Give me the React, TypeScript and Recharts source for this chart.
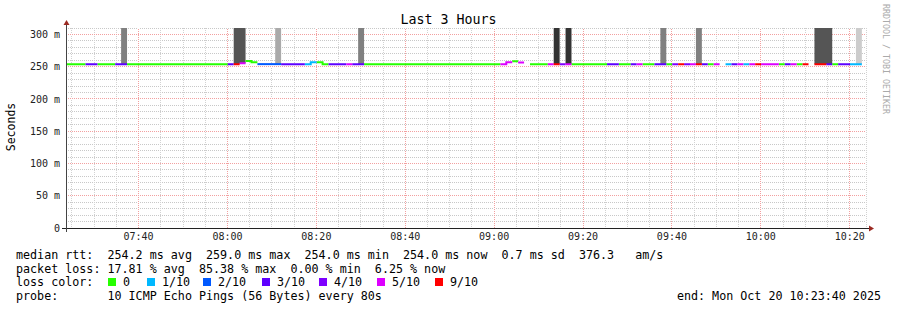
import React from 'react';
import { ComposedChart, Line, Area, XAxis, YAxis, CartesianGrid, ReferenceLine } from 'recharts';

// ---- data ----
const START_CLOCK = '07:23:40';
const SPAN_SECONDS = 10800;
const STEP_SECONDS = 80;
const FIRST_STEP_OFFSET = -56; // first 80s step starts 56 s before graph start
const Y_MAX = 310;
const SMOKE_TOP = 310;

const LOSS_LEVELS = [0, 1, 2, 3, 4, 5, 9];
const LOSS_LABELS = ['0', '1/10', '2/10', '3/10', '4/10', '5/10', '9/10'];
const LOSS_COLORS = ['#26ff00', '#00b8ff', '#0059ff', '#5e00ff', '#7e00ff', '#dd00ff', '#ff0000'];

const N = null;
// loss (x/10) per 80 s step
const LOSS = [
  0, 0, 0, 0, 3, 3, 0, 0, 0, 3,
  3, 0, 0, 0, 0, 0, 0, 0, 0, 0,
  0, 0, 0, 0, 0, 0, 0, 0, 3, 9,
  5, 0, 0, 2, 2, 2, 2, 3, 3, 3,
  3, 1, 1, 0, 0, 3, 3, 3, 5, 3,
  3, 0, 0, 0, 0, 0, 0, 0, 0, 0,
  0, 0, 0, 0, 0, 0, 0, 0, 0, 0,
  0, 0, 0, 0, 5, 5, 0, 5, N, 0,
  0, 0, 5, 9, 4, 5, 0, 0, 0, 0,
  0, 0, 3, 3, 0, 0, 3, 5, 0, 0,
  3, 3, 0, 4, 9, 4, 5, 9, 3, 0,
  5, N, 1, 3, 5, 1, 5, 9, 5, 5,
  5, 0, 3, 5, 0, 9, N, 9, 9, 3,
  0, 3, 3, 1, 1, N,
];

// median rtt (ms) per step
const MEDIAN = [
  254, 254, 254, 254, 254, 254, 254, 254, 254, 254,
  254, 254, 254, 254, 254, 254, 254, 254, 254, 254,
  254, 254, 254, 254, 254, 254, 254, 254, 254, 254,
  255.5, 259, 257, 254, 254, 254, 254, 254, 254, 254,
  254, 254, 257, 257, 254, 254, 254, 254, 254, 254,
  254, 254, 254, 254, 254, 254, 254, 254, 254, 254,
  254, 254, 254, 254, 254, 254, 254, 254, 254, 254,
  254, 254, 254, 254, 254, 257, 258.5, 256.5, N, 254,
  254, 254, 254, 254, 254, 254, 254, 254, 254, 254,
  254, 254, 254, 254, 254, 254, 254, 254, 254, 254,
  254, 254, 254, 254, 254, 254, 254, 254, 254, 254,
  254, N, 254, 254, 254, 254, 254, 254, 254, 254,
  254, 254, 254, 254, 254, 254, N, 254, 254, 254,
  254, 254, 254, 254, 254, N,
];

// steps with tall smoke, and their shade
const SMOKE_STEPS = [10, 29, 30, 36, 50, 83, 85, 101, 107, 127, 128, 129, 134];
const SMOKE_STEP_SHADES = ['mid', 'dark', 'dark', 'light', 'mid', 'black', 'black', 'mid', 'mid', 'dark', 'dark', 'dark', 'pale'];
const SHADE_NAMES = ['black', 'dark', 'mid', 'light', 'pale'];
const SHADE_COLORS = ['#333333', '#555555', '#808080', '#aaaaaa', '#cccccc'];

const Y_LABEL_TICKS = [0, 50, 100, 150, 200, 250, 300];
const X_TICK_LABELS = ['07:40', '08:00', '08:20', '08:40', '09:00', '09:20', '09:40', '10:00', '10:20'];

const TITLE = 'Last 3 Hours';
const Y_TITLE = 'Seconds';
const SIDE_TEXT = 'RRDTOOL / TOBI OETIKER';
const LEGEND_LINES = [
  'median rtt:  254.2 ms avg  259.0 ms max  254.0 ms min  254.0 ms now  0.7 ms sd  376.3   am/s',
  'packet loss: 17.81 % avg  85.38 % max  0.00 % min  6.25 % now',
];
const LOSS_COLOR_TITLE = 'loss color:';
const PROBE_TEXT = 'probe:       10 ICMP Echo Pings (56 Bytes) every 80s';
const END_TEXT = 'end: Mon Oct 20 10:23:40 2025';

// ---- helpers ----
const clockToSec = (c: string) => {
  const p = c.split(':').map(Number);
  return p[0] * 3600 + p[1] * 60 + (p[2] || 0);
};
const START_SEC = clockToSec(START_CLOCK);
const offsetOf = (c: string) => clockToSec(c) - START_SEC;

const majorX = X_TICK_LABELS.map(offsetOf);
const minorX: number[] = [];
{
  const first = Math.ceil(START_SEC / 300) * 300 - START_SEC;
  for (let t = first; t <= SPAN_SECONDS; t += 300) minorX.push(t);
}
const minorY: number[] = [];
for (let v = 0; v <= Y_MAX; v += 10) minorY.push(v);
const majorY = Y_LABEL_TICKS.filter((v) => v > 0);

const rows: any[] = [];
LOSS.forEach((loss, j) => {
  const s = FIRST_STEP_OFFSET + j * STEP_SECONDS;
  const m = MEDIAN[j];
  const si = SMOKE_STEPS.indexOf(j);
  const shade = si >= 0 ? SMOKE_STEP_SHADES[si] : null;
  [s, s + STEP_SECONDS].forEach((t) => {
    const row: any = { t };
    LOSS_LEVELS.forEach((lv) => {
      row['m' + lv] = m != null && loss === lv ? m : null;
    });
    SHADE_NAMES.forEach((nm) => {
      row['s_' + nm] = shade === nm && m != null ? [m, SMOKE_TOP] : null;
    });
    rows.push(row);
  });
});

const FONT = '"DejaVu Sans Mono", monospace';
const xLabel = (v: number) => {
  const i = majorX.indexOf(v);
  return i >= 0 ? X_TICK_LABELS[i] : '';
};
const yLabel = (v: number) => (Y_LABEL_TICKS.includes(v) ? (v === 0 ? '0' : `${v} m`) : '');

const legendTextStyle: React.CSSProperties = {
  position: 'absolute',
  fontFamily: FONT,
  fontSize: 11.7,
  lineHeight: '14px',
  whiteSpace: 'pre',
  color: '#000',
};

const BOX_X = [108, 147, 203, 262, 319, 377, 435];

export default function App() {
  return (
    <div style={{ position: 'absolute', left: 0, top: 0, width: 897, height: 310, background: '#fff', overflow: 'hidden' }}>
      <ComposedChart width={897} height={310} data={rows} margin={{ top: 28, right: 31, bottom: 52, left: 6 }}>
        <CartesianGrid vertical={false} stroke="#c8c8c8" strokeDasharray="1 1" shapeRendering="crispEdges" />
        <CartesianGrid horizontal={false} stroke="#d2d2d2" strokeDasharray="1 1" shapeRendering="crispEdges" />
        <XAxis
          dataKey="t"
          type="number"
          domain={[0, SPAN_SECONDS]}
          allowDataOverflow
          ticks={minorX}
          interval={0}
          tickFormatter={xLabel}
          tickLine={false}
          axisLine={false}
          tickSize={0}
          tickMargin={5}
          height={30}
          tick={{ fontFamily: FONT, fontSize: 10, fill: '#222' }}
        />
        <YAxis
          type="number"
          domain={[0, Y_MAX]}
          allowDataOverflow
          ticks={minorY}
          interval={0}
          tickFormatter={yLabel}
          tickLine={false}
          axisLine={false}
          tickSize={0}
          tickMargin={6}
          width={60}
          tick={{ fontFamily: FONT, fontSize: 10, fill: '#222' }}
        />
        {majorX.map((v) => (
          <ReferenceLine key={'wx' + v} x={v} stroke="#ffffff" strokeWidth={1} shapeRendering="crispEdges" zIndex={10} />
        ))}
        {majorY.map((v) => (
          <ReferenceLine key={'wy' + v} y={v} stroke="#ffffff" strokeWidth={1} shapeRendering="crispEdges" zIndex={10} />
        ))}
        {majorY.map((v) => (
          <ReferenceLine key={'hy' + v} y={v} stroke="#f2a0a0" strokeDasharray="1 1" shapeRendering="crispEdges" zIndex={11} />
        ))}
        {majorX.map((v) => (
          <ReferenceLine key={'vx' + v} x={v} stroke="#f2a0a0" strokeDasharray="1 1" shapeRendering="crispEdges" zIndex={11} />
        ))}
        {SHADE_NAMES.map((nm, i) => (
          <Area
            key={nm}
            dataKey={'s_' + nm}
            type="linear"
            stroke="none"
            fill={SHADE_COLORS[i]}
            fillOpacity={1}
            connectNulls={false}
            isAnimationActive={false}
            dot={false}
            activeDot={false}
          />
        ))}
        {LOSS_LEVELS.map((lv, i) => (
          <Line
            key={lv}
            dataKey={'m' + lv}
            type="linear"
            stroke={LOSS_COLORS[i]}
            strokeWidth={2}
            dot={false}
            activeDot={false}
            connectNulls={false}
            isAnimationActive={false}
          />
        ))}
      </ComposedChart>

      <svg width={897} height={310} style={{ position: 'absolute', left: 0, top: 0, pointerEvents: 'none' }}>
        <line x1={62} y1={228.5} x2={870} y2={228.5} stroke="#222" strokeWidth={1} />
        <line x1={66.5} y1={232} x2={66.5} y2={24} stroke="#444" strokeWidth={1} />
        <polygon points="63.5,25 69.5,25 66.5,20" fill="#9b2a22" />
        <polygon points="869,225.5 869,231.5 874,228.5" fill="#9b2a22" />
      </svg>

      <div style={{ position: 'absolute', left: 0, top: 12, width: 897, textAlign: 'center', fontFamily: FONT, fontSize: 13.3, lineHeight: '16px', color: '#000' }}>
        {TITLE}
      </div>
      <div style={{ position: 'absolute', left: -39, top: 120, width: 100, height: 14, textAlign: 'center', fontFamily: FONT, fontSize: 11.5, lineHeight: '14px', transform: 'rotate(-90deg)', color: '#000' }}>
        {Y_TITLE}
      </div>
      <div style={{ position: 'absolute', left: 826, top: 52, width: 120, height: 14, textAlign: 'center', fontFamily: FONT, fontSize: 8.3, lineHeight: '14px', transform: 'rotate(90deg)', color: '#aaaaaa' }}>
        {SIDE_TEXT}
      </div>

      <div style={{ ...legendTextStyle, left: 16, top: 247.5 }}>{LEGEND_LINES[0]}</div>
      <div style={{ ...legendTextStyle, left: 16, top: 261.5 }}>{LEGEND_LINES[1]}</div>
      <div style={{ ...legendTextStyle, left: 16, top: 275 }}>{LOSS_COLOR_TITLE}</div>
      {LOSS_LABELS.map((lb, i) => (
        <React.Fragment key={lb}>
          <div style={{ position: 'absolute', left: BOX_X[i], top: 278, width: 8, height: 8, background: LOSS_COLORS[i] }} />
          <div style={{ ...legendTextStyle, left: BOX_X[i] + 15, top: 275 }}>{lb}</div>
        </React.Fragment>
      ))}
      <div style={{ ...legendTextStyle, left: 16, top: 289 }}>{PROBE_TEXT}</div>
      <div style={{ ...legendTextStyle, right: 897 - 881, top: 289 }}>{END_TEXT}</div>
    </div>
  );
}
